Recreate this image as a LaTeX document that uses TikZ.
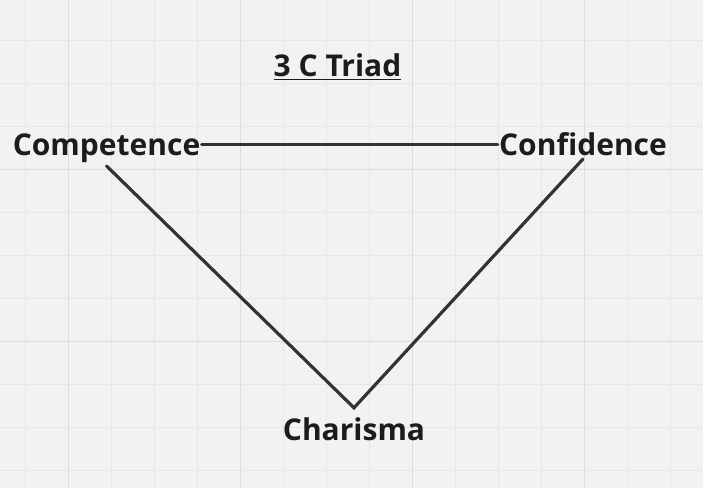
\documentclass[tikz,border=0pt]{standalone}
\usepackage{fontspec}
\setmainfont{Open Sans}
\usepackage{tikz}
\usetikzlibrary{calc,positioning}
\definecolor{paper}{HTML}{F2F2F2}
\definecolor{gridminor}{HTML}{E7E7E7}
\definecolor{gridmajor}{HTML}{DDDDDD}
\definecolor{ink}{HTML}{1C1C1C}
\definecolor{edgeink}{HTML}{333333}
\tikzset{
  word/.style={font=\bfseries\fontsize{15}{18}\selectfont, text=ink, inner xsep=0.5pt, inner ysep=1.5pt, anchor=base},
  side/.style={draw=edgeink, line width=1.6pt, line cap=round},
}

\begin{document}
\begin{tikzpicture}[x=0.5pt,y=-0.5pt]
\fill[paper] (0,0) rectangle (703,488);
\useasboundingbox (0,0) rectangle (703,488);
\foreach \x in {25.3,68.3,...,703} \draw[gridminor,line width=0.5pt] (\x,0) -- (\x,488);
\foreach \y in {40.5,83.5,...,488} \draw[gridminor,line width=0.5pt] (0,\y) -- (703,\y);
\foreach \x in {68.3,240.3,...,703} \draw[gridmajor,line width=0.6pt] (\x,0) -- (\x,488);
\foreach \y in {169.5,341.5} \draw[gridmajor,line width=0.6pt] (0,\y) -- (703,\y);
\node[word] (title) at (337.5,76) {\underline{3 C Triad}};
\node[word] (competence) at (106.5,155.3) {Competence};
\node[word] (confidence) at (583,155.3) {Confidence};
\node[word] (charisma) at (354,440) {Charisma};
\coordinate (apex) at ([yshift=3pt]charisma.north);
\draw[side] ([yshift=5.4pt]competence.base east) -- ([yshift=5.4pt]confidence.base west);
\draw[side] (competence.south) -- (apex) -- (confidence.south);
\end{tikzpicture}
\end{document}
